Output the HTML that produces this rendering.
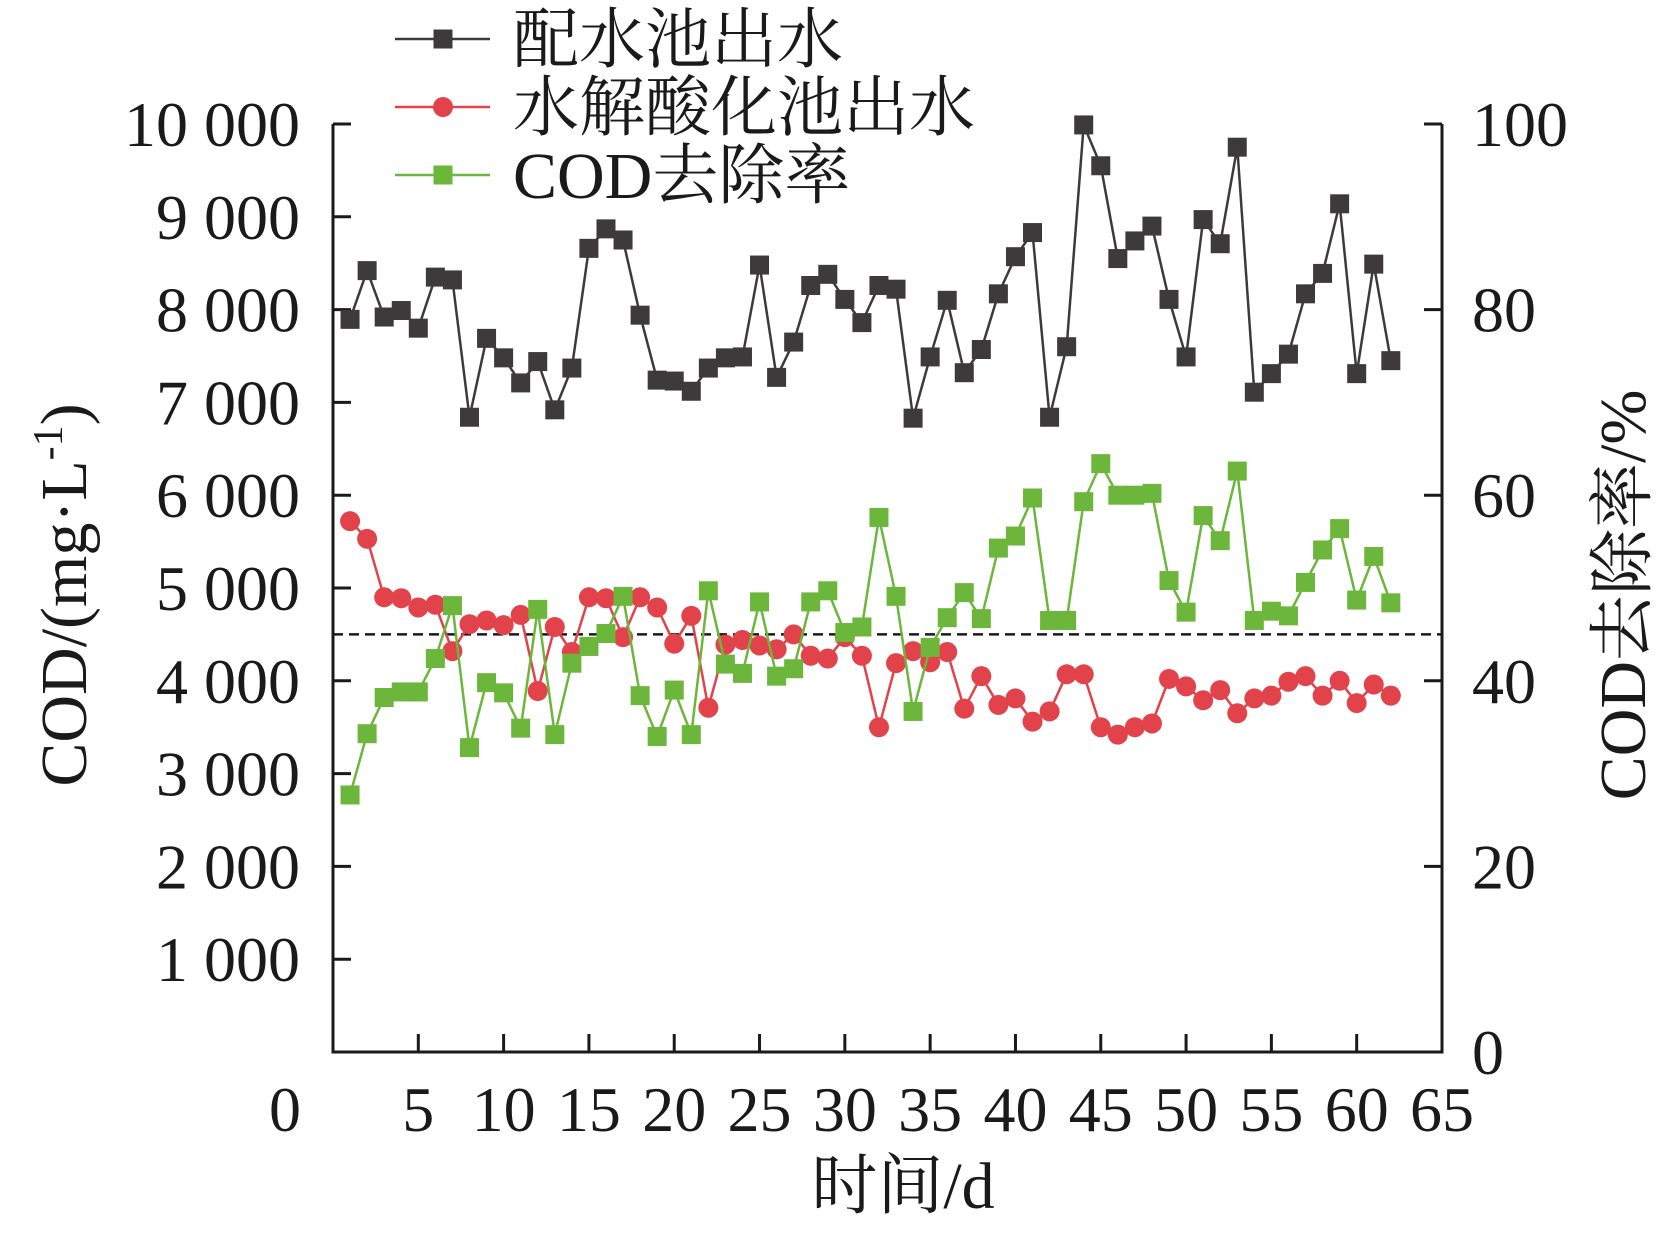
<!DOCTYPE html>
<html><head><meta charset="utf-8">
<style>
html,body{margin:0;padding:0;background:#fff;}
svg text{font-family:"Liberation Serif","Noto Serif CJK SC",serif;fill:#1a1a1a;}
</style></head>
<body>
<svg id="chart" width="1663" height="1231" viewBox="0 0 1663 1231" xmlns="http://www.w3.org/2000/svg">
<g id="axes"></g>
<g id="series"></g>
<g id="legend"></g>
</svg>
<script>
const inflow = [7895,8420,7920,7990,7800,8350,8320,6840,7690,7480,7210,7440,6920,7370,8660,8870,8750,7940,7240,7230,7120,7370,7480,7490,8480,7270,7650,8260,8380,8110,7860,8260,8220,6830,7490,8100,7320,7570,8170,8570,8830,6840,7600,9990,9550,8550,8740,8900,8110,7490,8970,8710,9750,7110,7310,7520,8170,8390,9140,7310,8490,7450];
const hydro = [5720,5530,4900,4890,4790,4820,4320,4610,4650,4600,4710,3890,4580,4310,4900,4890,4470,4900,4790,4400,4700,3710,4390,4440,4380,4340,4500,4270,4240,4470,4270,3500,4190,4320,4200,4310,3700,4050,3740,3810,3560,3670,4070,4070,3500,3420,3500,3540,4020,3940,3790,3900,3650,3810,3840,3990,4050,3840,4000,3760,3960,3840];
const removal = [27.7,34.3,38.2,38.8,38.8,42.4,48.1,32.8,39.8,38.7,34.9,47.7,34.2,41.9,43.7,45.1,49.1,38.4,34.0,39.0,34.2,49.7,41.8,40.8,48.5,40.5,41.3,48.5,49.7,45.2,45.8,57.6,49.1,36.7,43.6,46.8,49.5,46.7,54.3,55.6,59.7,46.5,46.5,59.3,63.4,60.0,60.0,60.2,50.8,47.4,57.8,55.1,62.6,46.5,47.5,47.0,50.6,54.1,56.4,48.7,53.4,48.4];
const leftTicks = [1000,2000,3000,4000,5000,6000,7000,8000,9000,10000];
const leftLabels = ["1 000","2 000","3 000","4 000","5 000","6 000","7 000","8 000","9 000","10 000"];
const rightTicks = [0,20,40,60,80,100];
const xTicks = [5,10,15,20,25,30,35,40,45,50,55,60,65];
const refLine = 4500;

const L=333,R=1442,T=124,B=1052;
const FS=64;
const xs=d=>L+(R-L)*d/65;
const yl=v=>B-(B-T)*v/10000;
const yr=v=>B-(B-T)*v/100;
const NS="http://www.w3.org/2000/svg";
function mk(tag,attrs,parent,txt){const e=document.createElementNS(NS,tag);for(const k in attrs)e.setAttribute(k,attrs[k]);if(txt!==undefined)e.textContent=txt;parent.appendChild(e);return e;}
const ax=document.getElementById('axes'), se=document.getElementById('series'), lg=document.getElementById('legend');

let e;
e=mk('path',{d:`M${L},${T} L${L},${B} L${R},${B} L${R},${T}`,fill:'none',stroke:'#1a1a1a','stroke-width':3},ax);


leftTicks.forEach((v,i)=>{
  e=mk('line',{x1:L,x2:L+18,y1:yl(v),y2:yl(v),stroke:'#1a1a1a','stroke-width':3},ax);
  
  
  e=mk('text',{x:300,y:yl(v)+22,'text-anchor':'end','font-size':FS},ax,leftLabels[i]);
  
  
});
rightTicks.forEach(v=>{
  e=mk('line',{x1:R-18,x2:R,y1:yr(v),y2:yr(v),stroke:'#1a1a1a','stroke-width':3},ax);
  
  
  e=mk('text',{x:1472,y:yr(v)+22,'text-anchor':'start','font-size':FS},ax,String(v));
  
  
});
xTicks.forEach(v=>{
  e=mk('line',{x1:xs(v),x2:xs(v),y1:B,y2:B-18,stroke:'#1a1a1a','stroke-width':3},ax);
  
  
  e=mk('text',{x:xs(v),y:1131,'text-anchor':'middle','font-size':FS},ax,String(v));
  
  
});
e=mk('text',{x:285,y:1131,'text-anchor':'middle','font-size':FS},ax,'0');


e=mk('text',{x:903,y:1208,'text-anchor':'middle','font-size':66},ax,'时间/d');


e=mk('text',{x:0,y:0,'text-anchor':'middle','font-size':66,transform:'translate(86,595) rotate(-90)'},ax,'COD/(mg·L');


mk('tspan',{dy:-24,'font-size':42},e,'-1');
mk('tspan',{dy:24},e,')');
e=mk('text',{x:0,y:0,'text-anchor':'middle','font-size':66,transform:'translate(1645,595) rotate(-90)'},ax,'COD去除率/%');


e=mk('line',{x1:L,x2:R,y1:yl(refLine),y2:yl(refLine),stroke:'#1a1a1a','stroke-width':2.5,'stroke-dasharray':'10,6'},se);



function drawSeries(vals,yf,color,shape,name){
  const g=mk('g',{},se);
  
  
  const pts=vals.map((v,i)=>[xs(i+1),yf(v)]);
  e=mk('polyline',{points:pts.map(p=>p.join(',')).join(' '),fill:'none',stroke:color,'stroke-width':2.5},g);
  
  
  pts.forEach(p=>{
    if(shape==='sq') e=mk('rect',{x:p[0]-9.5,y:p[1]-9.5,width:19,height:19,fill:color},g);
    else e=mk('circle',{cx:p[0],cy:p[1],r:10,fill:color},g);
    
    
  });
}
drawSeries(inflow,yl,'#3d3a3b','sq','inflow');
drawSeries(hydro,yl,'#e2424a','ci','hydrolysis');
drawSeries(removal,yr,'#6cb63c','sq','removal');

const leg=[['配水池出水','#3d3a3b','sq',39],['水解酸化池出水','#e2424a','ci',107],['COD去除率','#6cb63c','sq',175]];
leg.forEach(l=>{
  const g=mk('g',{},lg);
  
  
  mk('line',{x1:395,x2:490,y1:l[3],y2:l[3],stroke:l[1],'stroke-width':2.5},g);
  if(l[2]==='sq') mk('rect',{x:433.5,y:l[3]-9.5,width:19,height:19,fill:l[1]},g);
  else mk('circle',{cx:443,cy:l[3],r:10,fill:l[1]},g);
  mk('text',{x:513,y:l[3]+23,'font-size':66},g,l[0]);
});
</script>
</body></html>
